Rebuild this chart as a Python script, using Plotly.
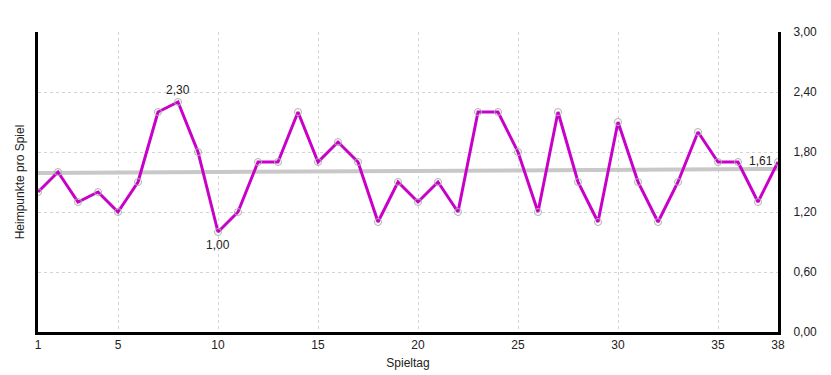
import plotly.graph_objects as go

spieltag = list(range(1, 39))
heimpunkte = [1.40, 1.60, 1.30, 1.40, 1.20, 1.50, 2.20, 2.30, 1.80, 1.00,
              1.20, 1.70, 1.70, 2.20, 1.70, 1.90, 1.70, 1.10, 1.50, 1.30,
              1.50, 1.20, 2.20, 2.20, 1.80, 1.20, 2.20, 1.50, 1.10, 2.10,
              1.50, 1.10, 1.50, 2.00, 1.70, 1.70, 1.30, 1.70]
trend_x = [1, 38]
trend_y = [1.59, 1.63]
mittel = 1.61
x_ticks = [1, 5, 10, 15, 20, 25, 30, 35, 38]
y_ticks = [0.0, 0.6, 1.2, 1.8, 2.4, 3.0]

FONT = "Liberation Sans"

fig = go.Figure()
fig.add_trace(go.Scatter(x=trend_x, y=trend_y, mode="lines",
                         line=dict(color="#c8c8c8", width=4), hoverinfo="skip"))
fig.add_trace(go.Scatter(x=spieltag, y=heimpunkte, mode="lines+markers",
                         line=dict(color="#c800c8", width=3),
                         marker=dict(symbol="circle-open", size=7,
                                     color="#b0b0b0", line=dict(width=1))))

imax = heimpunkte.index(max(heimpunkte))
imin = heimpunkte.index(min(heimpunkte))
fmt = lambda v: f"{v:.2f}".replace(".", ",")
fig.add_annotation(x=spieltag[imax], y=heimpunkte[imax], text=fmt(heimpunkte[imax]),
                   showarrow=False, yshift=12)
fig.add_annotation(x=spieltag[imin], y=heimpunkte[imin], text=fmt(heimpunkte[imin]),
                   showarrow=False, yshift=-13)
fig.add_annotation(x=spieltag[-1], y=mittel, text=fmt(mittel),
                   showarrow=False, xshift=-17, yshift=10)

fig.update_layout(
    template="none",
    width=831, height=375,
    margin=dict(l=38, r=53, t=32, b=43),
    paper_bgcolor="white", plot_bgcolor="white",
    showlegend=False,
    separators=",.",
    font=dict(family=FONT, size=12, color="#222222"),
    xaxis=dict(range=[1, 38], tickvals=x_ticks, ticktext=[str(t) for t in x_ticks],
               showgrid=True, gridcolor="#d3d3d3", griddash="3px,3px", gridwidth=1,
               showline=True, linecolor="black", linewidth=3, zeroline=False,
               automargin=False,
               title=dict(text="Spieltag", standoff=8, font=dict(size=12)), ticks=""),
    yaxis=dict(range=[0, 3], tickvals=y_ticks, tickformat=".2f", side="right",
               showgrid=True, gridcolor="#d3d3d3", griddash="3px,3px", gridwidth=1,
               showline=True, mirror=True, linecolor="black", linewidth=3,
               automargin=False,
               zeroline=False, ticks="", ticklabelstandoff=10),
)
fig.add_annotation(xref="paper", yref="paper", x=-0.036, y=0.5, text="Heimpunkte pro Spiel",
                   textangle=-90, showarrow=False, font=dict(size=12, color="#222222"))

fig.write_html("out.html")
